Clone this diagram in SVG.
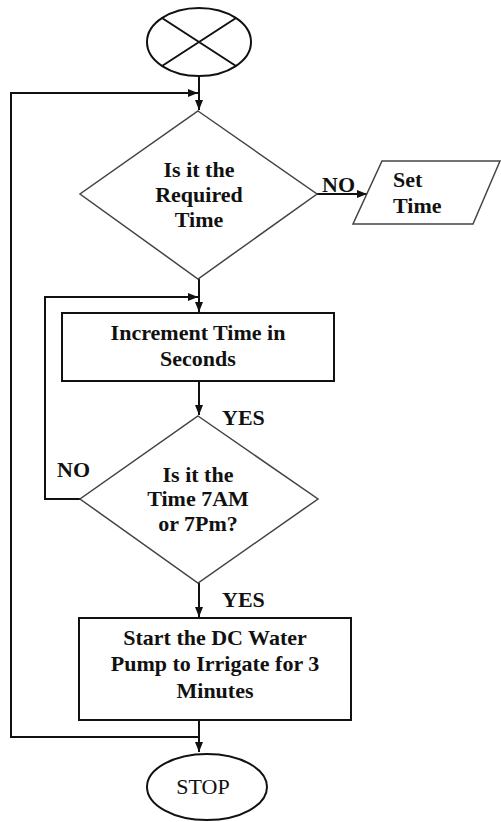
<svg xmlns="http://www.w3.org/2000/svg" width="501" height="822" viewBox="0 0 501 822">
<style>
.s{fill:#fff;stroke:#111;stroke-width:2}
.d{fill:#fff;stroke:#444;stroke-width:1.5}
.c{fill:none;stroke:#111;stroke-width:2}
.t{font-family:"Liberation Serif","Times New Roman",serif;font-weight:bold;font-size:22px;fill:#111}
.m{text-anchor:middle}
.r{font-family:"Liberation Serif","Times New Roman",serif;font-size:22px;fill:#111}
</style>
<defs>
<marker id="ah" markerWidth="10" markerHeight="8" refX="10" refY="4" orient="auto" markerUnits="userSpaceOnUse">
<path d="M0,0 L10,4 L0,8 Z" fill="#111"/>
</marker>
</defs>
<g id="connectors">
<path class="c" d="M199,76 V110" marker-end="url(#ah)"/>
<path class="c" d="M199,737 H11 V93 H198" marker-end="url(#ah)"/>
<path class="c" d="M199,279 V312" marker-end="url(#ah)"/>
<path class="c" d="M80,499 H45 V297 H198" marker-end="url(#ah)"/>
<path class="c" d="M317,194 H367" marker-end="url(#ah)"/>
<path class="c" d="M199,381 V415" marker-end="url(#ah)"/>
<path class="c" d="M199,583 V617" marker-end="url(#ah)"/>
<path class="c" d="M199,720 V752" marker-end="url(#ah)"/>
<text class="t" x="322" y="192">NO</text>
<text class="t" x="222" y="425">YES</text>
<text class="t" x="57" y="477">NO</text>
<text class="t" x="222" y="607">YES</text>
</g>
<g id="start">
<ellipse class="s" cx="199" cy="42" rx="52" ry="34" stroke-width="1.5"/>
<path class="c" stroke-width="1.5" d="M162,18 L236,66 M236,18 L162,66"/>
</g>
<g id="decision1">
<polygon class="d" points="198,111 317,194 198,279 80,194"/>
<text class="t m" x="199" y="177">Is it the</text>
<text class="t m" x="199" y="202">Required</text>
<text class="t m" x="199" y="227">Time</text>
</g>
<g id="setTime">
<polygon class="d" points="382,161 500,161 473,224 353,224"/>
<text class="t" x="393" y="187">Set</text>
<text class="t" x="393" y="213">Time</text>
</g>
<g id="increment">
<rect class="s" x="62" y="313" width="272" height="68"/>
<text class="t m" x="198" y="340">Increment Time in</text>
<text class="t m" x="198" y="366">Seconds</text>
</g>
<g id="decision2">
<polygon class="d" points="198,416 318,499 198,583 80,499"/>
<text class="t m" x="198" y="482">Is it the</text>
<text class="t m" x="198" y="506">Time 7AM</text>
<text class="t m" x="198" y="531">or 7Pm?</text>
</g>
<g id="pump">
<rect class="s" x="79" y="618" width="272" height="102"/>
<text class="t m" x="215" y="645">Start the DC Water</text>
<text class="t m" x="215" y="671">Pump to Irrigate for 3</text>
<text class="t m" x="215" y="698">Minutes</text>
</g>
<g id="stop">
<ellipse class="s" cx="207" cy="787" rx="60" ry="33" stroke-width="1.5"/>
<text class="r m" x="203" y="794">STOP</text>
</g>
</svg>
